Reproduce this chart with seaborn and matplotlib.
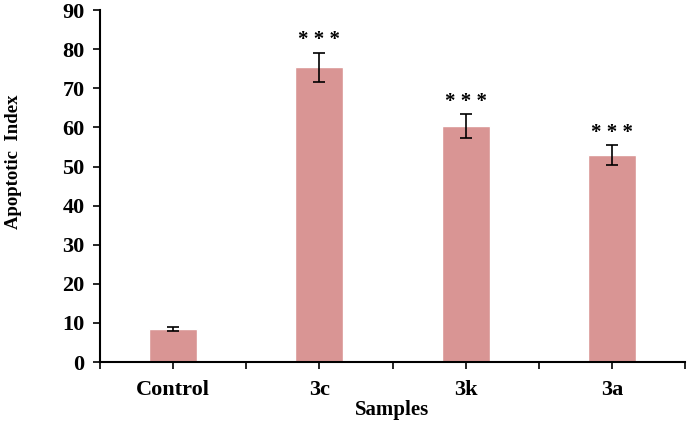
import numpy as np
import pandas as pd
import matplotlib
matplotlib.use("Agg")
import matplotlib.pyplot as plt
import seaborn as sns

# Data
samples = ["Control", "3c", "3k", "3a"]
apoptotic_index = [8.4, 75.4, 60.4, 52.9]
errors = [0.5, 3.7, 3.0, 2.5]
significance = ["", "* * *", "* * *", "* * *"]

BAR_COLOR = "#D99594"

sns.set_style("ticks")
plt.rcParams["font.family"] = ["Liberation Serif", "DejaVu Serif"]
plt.rcParams["font.weight"] = "bold"
plt.rcParams["text.color"] = "black"
plt.rcParams["axes.labelcolor"] = "black"
plt.rcParams["xtick.color"] = "black"
plt.rcParams["ytick.color"] = "black"

df = pd.DataFrame({"Samples": samples, "Apoptotic Index": apoptotic_index})

fig = plt.figure(figsize=(6.88, 4.23), dpi=100)
ax = fig.add_axes([0.145, 0.144, 0.851, 0.832])

sns.barplot(data=df, x="Samples", y="Apoptotic Index", color=BAR_COLOR,
            saturation=1, width=0.33, errorbar=None, ax=ax)

pos = np.arange(len(samples))
ax.errorbar(pos, apoptotic_index, yerr=errors, fmt="none", ecolor="black",
            elinewidth=1.2, capsize=4, capthick=1.2)

# Significance stars above error bars
for x, v, e, s in zip(pos, apoptotic_index, errors, significance):
    if s:
        ax.text(x, v + e + 0.6, s, ha="center", va="bottom", fontsize=15,
                fontweight="bold")

ax.set_xlim(-0.5, len(samples) - 0.5)
ax.set_ylim(0, 90)
ax.set_yticks(range(0, 91, 10))
ax.set_xticks(pos)
ax.set_xticklabels(samples)
ax.set_xticks(np.arange(-0.5, len(samples), 1.0), minor=True)
ax.tick_params(axis="y", which="major", labelsize=16, length=5, width=1.2,
               direction="out", pad=6)
ax.tick_params(axis="x", which="major", labelsize=16, length=5, width=1.2,
               direction="out", pad=8)
ax.tick_params(axis="x", which="minor", length=5, width=1.2, direction="out")
for lbl in ax.get_xticklabels() + ax.get_yticklabels():
    lbl.set_fontweight("bold")

ax.set_xlabel("Samples", fontsize=15, fontweight="bold", labelpad=0)
ax.set_ylabel("Apoptotic  Index", fontsize=13.5, fontweight="bold")
ax.yaxis.set_label_coords(-0.133, 0.57)

sns.despine(ax=ax)
for sp in ["left", "bottom"]:
    ax.spines[sp].set_linewidth(1.5)
    ax.spines[sp].set_color("black")

fig.savefig("out.png", dpi=100)
